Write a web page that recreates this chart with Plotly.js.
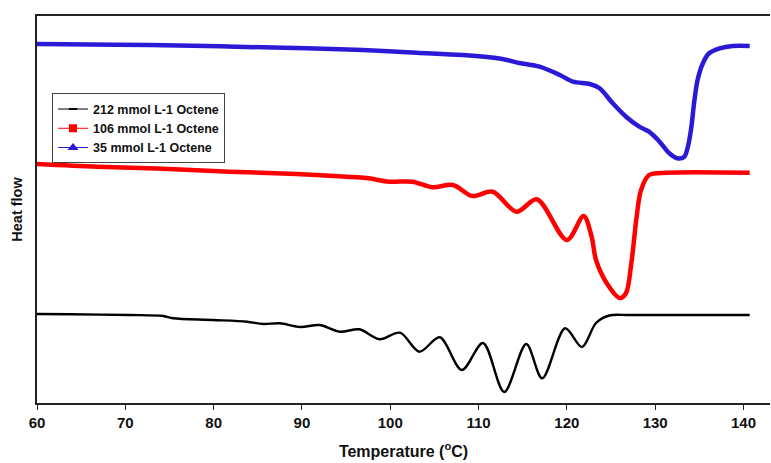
<!DOCTYPE html>
<html>
<head>
<meta charset="utf-8">
<script src="https://cdn.plot.ly/plotly-3.0.1.min.js"></script>
<style>html,body{margin:0;padding:0;background:#fff}#chart{width:771px;height:463px}</style>
</head>
<body>
<div id="chart"></div>
<script>
// Series names
const seriesNames = ["212 mmol L-1 Octene", "106 mmol L-1 Octene", "35 mmol L-1 Octene"];

// 35 mmol L-1 Octene (blue)
const tBlue = [60, 69, 77.6, 82.6, 90.5, 96.9, 103, 108.2, 112.7, 114.6, 116.9, 119.2, 120.7, 122.6, 123.7, 125.2, 126.7, 128.2, 129.3, 130.5, 131.6, 132.5, 133.3, 133.7, 134.1, 134.4, 134.8, 135.4, 136.1, 137.3, 138.8, 140.7];
const hBlue = [359, 358.3, 357.3, 356.3, 354.7, 353, 350.3, 348, 344, 340, 336.3, 328, 321.3, 319, 314.7, 299.7, 286.3, 276.3, 271.3, 261.3, 249.7, 244.7, 246.3, 256.3, 276.3, 299.7, 323, 339.7, 349.7, 354.7, 357, 357];

// 106 mmol L-1 Octene (red)
const tRed = [60, 66.8, 74.3, 81.8, 89.4, 95.1, 97.3, 99.9, 102.5, 104.8, 107.1, 109.3, 111.6, 114.3, 116.6, 120.0, 121.9, 122.8, 123.3, 124.5, 126.0, 126.7, 127.3, 127.9, 128.4, 129.3, 131.3, 140.7];
const hRed = [239, 236.3, 234.3, 231.3, 229, 226.3, 225, 221.3, 221.3, 215.7, 218, 207, 211.3, 191.3, 203.7, 163, 187, 166.3, 143, 120, 105, 110, 140, 186.3, 213, 228, 230.3, 230.3];

// 212 mmol L-1 Octene (black)
const tBlack = [60, 63.7, 70.5, 74.3, 75.4, 79.9, 83.8, 85.6, 87.5, 89.8, 92.0, 94.3, 96.5, 98.8, 101.1, 103.3, 105.6, 108.1, 110.5, 112.9, 115.4, 117.2, 119.8, 121.7, 123.3, 124.8, 127, 140.7];
const hBlack = [89, 88.7, 88, 87, 84.7, 83, 81.3, 79, 79.7, 76, 78, 71.3, 73.7, 63.7, 70.3, 51.3, 65.7, 33, 60, 11, 59, 24.7, 74.7, 56, 80, 87.5, 88, 88];

// x-axis ticks
const xTicks = [60, 70, 80, 90, 100, 110, 120, 130, 140];

const colors = ["#000000", "#ff0000", "#2a1ad6"];
const symbols = ["line-ew-open", "square", "triangle-up"];
const xs = [tBlack, tRed, tBlue];
const ys = [hBlack, hRed, hBlue];
const widths = [2.4, 4.5, 4.5];

const traces = [];
for (let i = 0; i < 3; i++) {
  traces.push({
    x: xs[i], y: ys[i], type: "scatter", mode: "lines",
    line: {color: colors[i], width: widths[i], shape: "spline", smoothing: 0.9},
    showlegend: false, hoverinfo: "skip"
  });
}
// legend entries
for (let i = 0; i < 3; i++) {
  traces.push({
    x: [null], y: [null], type: "scatter", mode: "lines+markers", name: seriesNames[i],
    line: {color: colors[i], width: 1},
    marker: {color: colors[i], symbol: symbols[i], size: 6, line: {color: colors[i], width: 2}}
  });
}

const layout = {
  width: 771, height: 463,
  margin: {l: 37, r: 1, t: 16, b: 60},
  paper_bgcolor: "#fff", plot_bgcolor: "#fff",
  font: {family: "Liberation Sans, Arial, sans-serif", color: "#111"},
  showlegend: true,
  legend: {
    x: 0.0205, y: 0.80, xanchor: "left", yanchor: "top",
    bgcolor: "#fff", bordercolor: "#444", borderwidth: 1,
    font: {size: 12.5, weight: "bold", color: "#111"},
    tracegroupgap: 0, itemwidth: 30
  },
  xaxis: {
    range: [60, 143], tickmode: "array", tickvals: xTicks, ticktext: xTicks.map(v => "<b>" + v + "</b>"),
    showgrid: false, zeroline: false,
    showline: true, linecolor: "#222", linewidth: 2, mirror: true,
    ticks: "outside", ticklen: 5, tickwidth: 1, tickcolor: "#222",
    tickfont: {family: "Liberation Sans, Arial, sans-serif", size: 15, color: "#111"},
    title: {text: "Temperature (<sup>o</sup>C)", font: {size: 16, weight: "bold"}, standoff: 16}
  },
  yaxis: {
    range: [0, 387], showticklabels: false, ticks: "",
    showgrid: false, zeroline: false,
    showline: true, linecolor: "#222", linewidth: 2,
    title: {text: "Heat flow", font: {size: 14.5, weight: "bold"}, standoff: 9}
  }
};

Plotly.newPlot("chart", traces, layout, {displayModeBar: false, staticPlot: true});
</script>
</body>
</html>
